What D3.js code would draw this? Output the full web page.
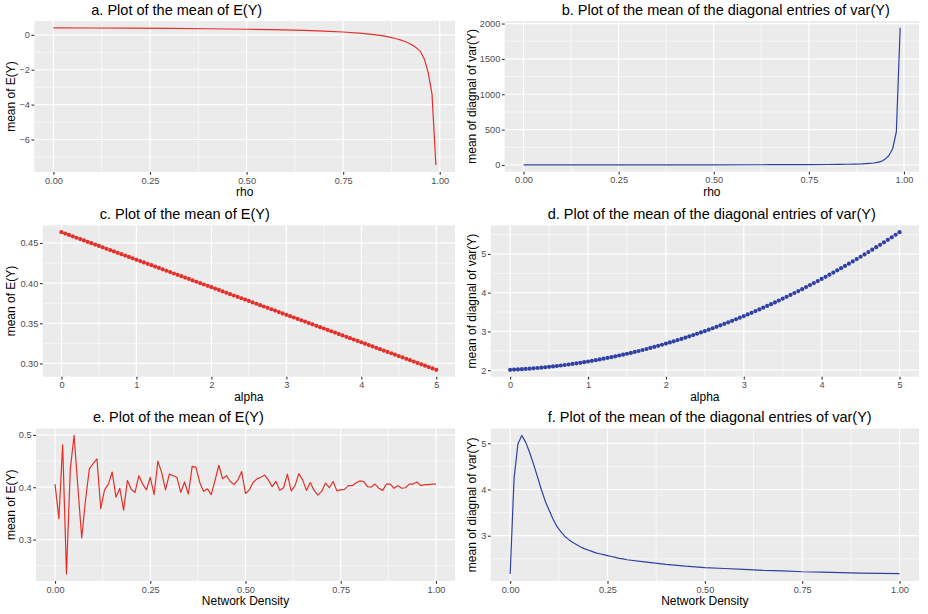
<!DOCTYPE html>
<html>
<head>
<meta charset="utf-8">
<script src="https://cdn.jsdelivr.net/npm/d3@7"></script>
<style>
  body { margin: 0; background: #fff; }
  svg { display: block; font-family: "Liberation Sans", Arial, sans-serif; }
</style>
</head>
<body>
<svg id="chart" width="928" height="614"></svg>
<script>
// ---- data ----

// panels a, b : rho
var rhoVals = [0, 0.1, 0.2, 0.3, 0.4, 0.5, 0.6, 0.65, 0.7, 0.75, 0.8, 0.83, 0.85, 0.87,
  0.89, 0.9, 0.91, 0.92, 0.93, 0.94, 0.95, 0.96, 0.97, 0.98, 0.99];
var meanEY_rho = [0.40, 0.392, 0.381, 0.366, 0.348, 0.321, 0.281, 0.253, 0.215, 0.162,
  0.083, 0.012, -0.05, -0.13, -0.24, -0.30, -0.38, -0.48, -0.60, -0.76, -0.95, -1.38,
  -2.15, -3.40, -7.47];
var meanVar_rho = [2.0, 2.05, 2.12, 2.25, 2.45, 2.8, 3.4, 3.9, 4.6, 5.6, 7.3, 8.8, 10.3,
  12.5, 16, 19, 23, 28, 36, 50, 80, 130, 225, 470, 1939];

// panels c, d : alpha = 0, 0.05, ..., 5
var alphaVals = d3.range(0, 101).map(function(i) { return i / 20; });
var meanEY_alpha = [0.4634, 0.4617, 0.4600, 0.4583, 0.4565, 0.4548, 0.4531, 0.4514, 0.4497,
  0.4480, 0.4463, 0.4446, 0.4428, 0.4411, 0.4394, 0.4377, 0.4360, 0.4343, 0.4326, 0.4309,
  0.4291, 0.4274, 0.4257, 0.4240, 0.4223, 0.4206, 0.4189, 0.4172, 0.4154, 0.4137, 0.4120,
  0.4103, 0.4086, 0.4069, 0.4052, 0.4034, 0.4017, 0.4000, 0.3983, 0.3966, 0.3949, 0.3932,
  0.3915, 0.3897, 0.3880, 0.3863, 0.3846, 0.3829, 0.3812, 0.3795, 0.3778, 0.3760, 0.3743,
  0.3726, 0.3709, 0.3692, 0.3675, 0.3658, 0.3640, 0.3623, 0.3606, 0.3589, 0.3572, 0.3555,
  0.3538, 0.3521, 0.3503, 0.3486, 0.3469, 0.3452, 0.3435, 0.3418, 0.3401, 0.3384, 0.3366,
  0.3349, 0.3332, 0.3315, 0.3298, 0.3281, 0.3264, 0.3246, 0.3229, 0.3212, 0.3195, 0.3178,
  0.3161, 0.3144, 0.3127, 0.3109, 0.3092, 0.3075, 0.3058, 0.3041, 0.3024, 0.3007, 0.2989,
  0.2972, 0.2955, 0.2938, 0.2921];
var meanVar_alpha = [2.010, 2.015, 2.020, 2.026, 2.033, 2.040, 2.048, 2.057, 2.066, 2.076,
  2.086, 2.097, 2.109, 2.121, 2.134, 2.147, 2.161, 2.176, 2.191, 2.207, 2.224, 2.241,
  2.259, 2.278, 2.297, 2.316, 2.337, 2.358, 2.379, 2.401, 2.424, 2.447, 2.471, 2.496,
  2.521, 2.547, 2.574, 2.601, 2.629, 2.657, 2.686, 2.716, 2.746, 2.777, 2.808, 2.840,
  2.873, 2.906, 2.940, 2.975, 3.010, 3.046, 3.082, 3.119, 3.157, 3.195, 3.234, 3.274,
  3.314, 3.355, 3.396, 3.438, 3.481, 3.524, 3.568, 3.612, 3.657, 3.703, 3.749, 3.796,
  3.844, 3.892, 3.941, 3.991, 4.041, 4.091, 4.143, 4.195, 4.247, 4.300, 4.354, 4.408,
  4.463, 4.519, 4.575, 4.632, 4.690, 4.748, 4.807, 4.866, 4.926, 4.987, 5.048, 5.110,
  5.172, 5.235, 5.299, 5.363, 5.428, 5.494, 5.560];

// panel e : density = 0, 0.01, ..., 1
var densityVals = d3.range(0, 101).map(function(i) { return i / 100; });
var meanEY_density = [0.406, 0.340, 0.481, 0.234, 0.434, 0.499, 0.400, 0.303, 0.375, 0.435,
  0.445, 0.454, 0.359, 0.395, 0.406, 0.429, 0.381, 0.398, 0.356, 0.413, 0.396, 0.390,
  0.422, 0.406, 0.395, 0.419, 0.386, 0.450, 0.428, 0.395, 0.425, 0.422, 0.419, 0.390,
  0.410, 0.387, 0.440, 0.438, 0.409, 0.392, 0.397, 0.386, 0.413, 0.442, 0.416, 0.422,
  0.411, 0.405, 0.414, 0.430, 0.388, 0.395, 0.409, 0.416, 0.419, 0.423, 0.414, 0.401,
  0.411, 0.394, 0.399, 0.425, 0.393, 0.403, 0.426, 0.414, 0.394, 0.409, 0.394, 0.385,
  0.392, 0.408, 0.399, 0.411, 0.393, 0.395, 0.396, 0.403, 0.403, 0.408, 0.412, 0.411,
  0.401, 0.400, 0.406, 0.398, 0.394, 0.406, 0.406, 0.398, 0.403, 0.398, 0.399, 0.406,
  0.406, 0.410, 0.403, 0.405, 0.405, 0.406, 0.406];

// panel f : density
var densityValsF = [0, 0.01, 0.02, 0.03, 0.04, 0.05, 0.06, 0.07, 0.08, 0.09, 0.10, 0.11,
  0.12, 0.13, 0.14, 0.15, 0.16, 0.17, 0.18, 0.19, 0.20, 0.21, 0.22, 0.23, 0.24, 0.25,
  0.26, 0.27, 0.28, 0.29, 0.30, 0.35, 0.40, 0.45, 0.50, 0.55, 0.60, 0.65, 0.70, 0.75,
  0.80, 0.85, 0.90, 0.95, 1.00];
var meanVar_density = [2.17, 4.24, 4.99, 5.17, 5.02, 4.80, 4.55, 4.28, 4.00, 3.75, 3.55,
  3.36, 3.20, 3.09, 2.99, 2.92, 2.86, 2.81, 2.76, 2.72, 2.69, 2.66, 2.63, 2.61, 2.59,
  2.57, 2.55, 2.53, 2.51, 2.50, 2.48, 2.43, 2.38, 2.34, 2.31, 2.29, 2.27, 2.25, 2.24,
  2.22, 2.21, 2.20, 2.19, 2.185, 2.18];

// tick values
var unitTicks = [0, 0.25, 0.5, 0.75, 1];
var alphaTicks = [0, 1, 2, 3, 4, 5];

var titles = ["a. Plot of the mean of E(Y)",
  "b. Plot of the mean of the diagonal entries of var(Y)",
  "c. Plot of the mean of E(Y)",
  "d. Plot of the mean of the diagonal entries of var(Y)",
  "e. Plot of the mean of E(Y)",
  "f. Plot of the mean of the diagonal entries of var(Y)"];

var RED = "#e4302a", BLUE = "#2f41a2";

var panels = [
  { title: titles[0], xs: rhoVals, ys: meanEY_rho, xt: unitTicks, yt: [-6, -4, -2, 0],
    xf: ".2f", yf: "d", xlab: "rho", ylab: "mean of E(Y)", col: RED, pts: false,
    l: 34.3, r: 455, t: 21, b: 172, ylx: 15.3 },
  { title: titles[1], xs: rhoVals, ys: meanVar_rho, xt: unitTicks, yt: [0, 500, 1000, 1500, 2000],
    xf: ".2f", yf: "d", xlab: "rho", ylab: "mean of diagnal of var(Y)", col: BLUE, pts: false,
    l: 504.7, r: 919, t: 21, b: 171.7, ylx: 475.5 },
  { title: titles[2], xs: alphaVals, ys: meanEY_alpha, xt: alphaTicks, yt: [0.30, 0.35, 0.40, 0.45],
    xf: "d", yf: ".2f", xlab: "alpha", ylab: "mean of E(Y)", col: RED, pts: true,
    l: 42.7, r: 455, t: 225.3, b: 376.7, ylx: 15.3 },
  { title: titles[3], xs: alphaVals, ys: meanVar_alpha, xt: alphaTicks, yt: [2, 3, 4, 5],
    xf: "d", yf: "d", xlab: "alpha", ylab: "mean of diagnal of var(Y)", col: BLUE, pts: true,
    l: 490.7, r: 919, t: 225.3, b: 376.7, ylx: 475.5 },
  { title: titles[4], xs: densityVals, ys: meanEY_density, xt: unitTicks, yt: [0.3, 0.4, 0.5],
    xf: ".2f", yf: ".1f", xlab: "Network Density", ylab: "mean of E(Y)", col: RED, pts: false,
    l: 36, r: 455, t: 428.5, b: 581, ylx: 15.3 },
  { title: titles[5], xs: densityValsF, ys: meanVar_density, xt: unitTicks, yt: [3, 4, 5],
    xf: ".2f", yf: "d", xlab: "Network Density", ylab: "mean of diagnal of var(Y)", col: BLUE, pts: false,
    l: 490.7, r: 919, t: 428.5, b: 581, ylx: 475.5 }
];

var svg = d3.select("#chart");

// ggplot-ish 5% expansion
function expand(vals) {
  var e = d3.extent(vals), pad = (e[1] - e[0]) * 0.05;
  return [e[0] - pad, e[1] + pad];
}

// minor breaks halfway between majors, one extra each side if it fits
function minors(ticks, dom) {
  var step = ticks[1] - ticks[0], out = [];
  for (var v = ticks[0] - step / 2; v <= ticks[ticks.length - 1] + step / 2 + 1e-9; v += step) {
    if (v >= dom[0] && v <= dom[1]) out.push(v);
  }
  return out;
}

panels.forEach(function(p) {
  var g = svg.append("g");
  var x = d3.scaleLinear().domain(expand(p.xs)).range([p.l, p.r]);
  var y = d3.scaleLinear().domain(expand(p.ys)).range([p.b, p.t]);

  g.append("rect")
    .attr("x", p.l).attr("y", p.t)
    .attr("width", p.r - p.l).attr("height", p.b - p.t)
    .attr("fill", "#ebebeb");

  // minor grid
  g.selectAll(".mx").data(minors(p.xt, x.domain())).enter().append("line")
    .attr("x1", d => x(d)).attr("x2", d => x(d)).attr("y1", p.t).attr("y2", p.b)
    .attr("stroke", "#fff").attr("stroke-width", 0.6);
  g.selectAll(".my").data(minors(p.yt, y.domain())).enter().append("line")
    .attr("y1", d => y(d)).attr("y2", d => y(d)).attr("x1", p.l).attr("x2", p.r)
    .attr("stroke", "#fff").attr("stroke-width", 0.6);
  // major grid
  g.selectAll(".gx").data(p.xt).enter().append("line")
    .attr("x1", d => x(d)).attr("x2", d => x(d)).attr("y1", p.t).attr("y2", p.b)
    .attr("stroke", "#fff").attr("stroke-width", 1.2);
  g.selectAll(".gy").data(p.yt).enter().append("line")
    .attr("y1", d => y(d)).attr("y2", d => y(d)).attr("x1", p.l).attr("x2", p.r)
    .attr("stroke", "#fff").attr("stroke-width", 1.2);

  var pts = p.xs.map(function(d, i) { return [d, p.ys[i]]; });

  if (p.pts) {
    g.selectAll(".pt").data(pts).enter().append("circle")
      .attr("cx", d => x(d[0])).attr("cy", d => y(d[1]))
      .attr("r", 2.1).attr("fill", p.col);
  } else {
    var line = d3.line().x(d => x(d[0])).y(d => y(d[1]));
    g.append("path").datum(pts)
      .attr("d", line)
      .attr("fill", "none")
      .attr("stroke", p.col)
      .attr("stroke-width", 1.2)
      .attr("stroke-linejoin", "round");
  }

  // axes
  var xa = g.append("g").attr("transform", "translate(0," + p.b + ")")
    .call(d3.axisBottom(x).tickValues(p.xt).tickFormat(d3.format(p.xf)).tickSize(2.8).tickPadding(2.2));
  var ya = g.append("g").attr("transform", "translate(" + p.l + ",0)")
    .call(d3.axisLeft(y).tickValues(p.yt).tickFormat(d3.format(p.yf)).tickSize(2.8).tickPadding(1.6));
  [xa, ya].forEach(function(a) {
    a.select(".domain").remove();
    a.selectAll("line").attr("stroke", "#333").attr("stroke-width", 1.1);
    a.selectAll("text").attr("fill", "#4d4d4d").style("font-size", "9.2px")
      .style("font-family", "'Liberation Sans', Arial, sans-serif");
  });

  // titles
  g.append("text")
    .attr("x", p.l + 57).attr("y", p.t - 6.5)
    .style("font-size", "14.5px").attr("fill", "#000")
    .text(p.title);

  g.append("text")
    .attr("x", (p.l + p.r) / 2).attr("y", p.b + 24.3)
    .attr("text-anchor", "middle")
    .style("font-size", "12px")
    .text(p.xlab);

  g.append("text")
    .attr("transform", "translate(" + p.ylx + "," + (p.t + p.b) / 2 + ") rotate(-90)")
    .attr("text-anchor", "middle")
    .style("font-size", "12px")
    .text(p.ylab);
});
</script>
</body>
</html>
